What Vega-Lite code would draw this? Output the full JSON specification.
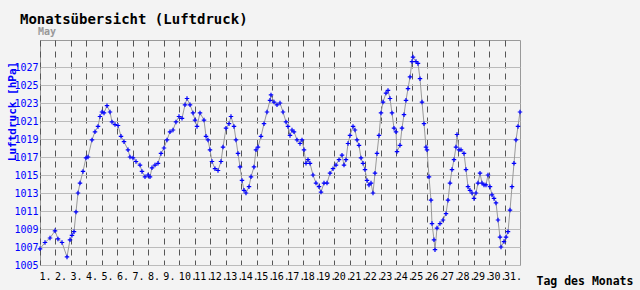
{
  "$schema": "https://vega.github.io/schema/vega-lite/v6.json",
  "width": 480,
  "height": 225,
  "autosize": {"type": "none"},
  "padding": {"left": 40, "top": 40, "right": 120, "bottom": 25},
  "background": "#f3f3f3",
  "title": {"text": "Monatsübersicht (Luftdruck)", "anchor": "start", "frame": "group", "dx": -20, "offset": 0, "font": "DejaVu Sans Mono", "fontSize": 14, "fontWeight": "bold", "color": "#000000"},
  "config": {"view": {"stroke": "#999999", "strokeWidth": 1}},
  "data": {"values": [
    {"d":1.000,"p":1006.8},{"d":1.323,"p":1007.5},{"d":1.646,"p":1008.0},{"d":1.969,"p":1008.8},{"d":2.162,"p":1007.9},{"d":2.421,"p":1007.5},{"d":2.744,"p":1005.9},{"d":2.937,"p":1007.8},
    {"d":3.066,"p":1008.3},{"d":3.196,"p":1008.7},{"d":3.325,"p":1010.9},{"d":3.454,"p":1013.0},{"d":3.583,"p":1014.1},{"d":3.777,"p":1015.4},{"d":3.971,"p":1016.9},
    {"d":4.100,"p":1017.0},{"d":4.358,"p":1018.9},{"d":4.552,"p":1019.8},{"d":4.746,"p":1020.4},{"d":4.875,"p":1021.5},{"d":5.004,"p":1022.0},
    {"d":5.133,"p":1021.9},{"d":5.327,"p":1022.7},{"d":5.521,"p":1022.0},{"d":5.650,"p":1020.9},{"d":5.844,"p":1020.6},{"d":6.037,"p":1020.5},
    {"d":6.231,"p":1019.3},{"d":6.425,"p":1018.7},{"d":6.683,"p":1017.8},{"d":6.812,"p":1017.0},{"d":7.006,"p":1016.9},
    {"d":7.200,"p":1016.5},{"d":7.458,"p":1016.1},{"d":7.587,"p":1015.4},{"d":7.781,"p":1014.8},{"d":7.975,"p":1015.0},
    {"d":8.104,"p":1014.8},{"d":8.233,"p":1015.8},{"d":8.427,"p":1016.1},{"d":8.621,"p":1016.3},{"d":8.814,"p":1017.4},{"d":9.008,"p":1018.0},
    {"d":9.202,"p":1018.9},{"d":9.396,"p":1019.8},{"d":9.590,"p":1020.0},{"d":9.783,"p":1020.9},{"d":9.977,"p":1021.5},
    {"d":10.171,"p":1021.3},{"d":10.365,"p":1022.8},{"d":10.494,"p":1023.5},{"d":10.688,"p":1022.8},{"d":10.881,"p":1021.9},{"d":11.010,"p":1021.1},
    {"d":11.140,"p":1020.4},{"d":11.333,"p":1021.9},{"d":11.592,"p":1021.1},{"d":11.721,"p":1019.3},{"d":11.850,"p":1018.9},{"d":11.979,"p":1017.8},
    {"d":12.108,"p":1016.5},{"d":12.302,"p":1015.7},{"d":12.496,"p":1015.5},{"d":12.690,"p":1016.5},{"d":12.819,"p":1018.1},{"d":13.013,"p":1020.2},
    {"d":13.206,"p":1020.7},{"d":13.335,"p":1021.5},{"d":13.529,"p":1020.4},{"d":13.658,"p":1018.9},{"d":13.787,"p":1017.4},{"d":13.917,"p":1015.9},
    {"d":14.046,"p":1014.4},{"d":14.175,"p":1013.3},{"d":14.304,"p":1013.0},{"d":14.498,"p":1013.7},{"d":14.627,"p":1014.8},{"d":14.821,"p":1015.9},{"d":14.950,"p":1017.8},
    {"d":15.079,"p":1018.1},{"d":15.273,"p":1019.3},{"d":15.467,"p":1020.7},{"d":15.660,"p":1022.0},{"d":15.854,"p":1023.3},{"d":15.919,"p":1023.9},
    {"d":16.113,"p":1023.1},{"d":16.306,"p":1022.8},{"d":16.500,"p":1023.0},{"d":16.694,"p":1022.0},{"d":16.888,"p":1020.9},{"d":17.017,"p":1020.4},
    {"d":17.146,"p":1019.4},{"d":17.275,"p":1020.0},{"d":17.404,"p":1019.8},{"d":17.598,"p":1018.9},{"d":17.792,"p":1018.5},{"d":17.921,"p":1018.9},
    {"d":18.050,"p":1017.8},{"d":18.179,"p":1016.3},{"d":18.308,"p":1016.7},{"d":18.437,"p":1016.3},{"d":18.631,"p":1015.0},{"d":18.825,"p":1014.1},{"d":19.019,"p":1013.7},
    {"d":19.148,"p":1013.1},{"d":19.342,"p":1014.1},{"d":19.535,"p":1014.1},{"d":19.729,"p":1015.2},{"d":19.923,"p":1015.7},
    {"d":20.117,"p":1016.1},{"d":20.310,"p":1016.7},{"d":20.504,"p":1017.2},{"d":20.633,"p":1016.1},{"d":20.762,"p":1016.7},{"d":20.892,"p":1018.5},{"d":21.021,"p":1019.4},
    {"d":21.215,"p":1020.4},{"d":21.344,"p":1020.0},{"d":21.473,"p":1018.9},{"d":21.602,"p":1018.3},{"d":21.731,"p":1016.9},{"d":21.860,"p":1016.3},{"d":21.989,"p":1015.6},
    {"d":22.118,"p":1014.4},{"d":22.248,"p":1013.9},{"d":22.377,"p":1014.1},{"d":22.506,"p":1013.0},{"d":22.635,"p":1015.2},{"d":22.764,"p":1017.4},{"d":22.894,"p":1019.4},{"d":23.023,"p":1021.9},
    {"d":23.152,"p":1023.1},{"d":23.346,"p":1024.1},{"d":23.475,"p":1024.4},{"d":23.604,"p":1023.5},{"d":23.733,"p":1021.9},{"d":23.862,"p":1020.2},{"d":23.992,"p":1019.8},
    {"d":24.056,"p":1017.6},{"d":24.250,"p":1018.3},{"d":24.379,"p":1020.2},{"d":24.508,"p":1021.7},{"d":24.638,"p":1023.3},{"d":24.767,"p":1024.6},{"d":24.896,"p":1025.9},{"d":25.025,"p":1027.6},
    {"d":25.090,"p":1028.1},{"d":25.283,"p":1027.6},{"d":25.412,"p":1027.4},{"d":25.542,"p":1025.7},{"d":25.671,"p":1023.1},{"d":25.800,"p":1020.7},{"d":25.929,"p":1018.1},{"d":25.994,"p":1017.8},
    {"d":26.123,"p":1014.8},{"d":26.252,"p":1012.2},{"d":26.317,"p":1009.6},{"d":26.446,"p":1007.8},{"d":26.510,"p":1006.7},{"d":26.639,"p":1009.1},{"d":26.833,"p":1009.6},{"d":27.027,"p":1010.0},
    {"d":27.221,"p":1010.7},{"d":27.350,"p":1012.2},{"d":27.479,"p":1014.1},{"d":27.608,"p":1015.6},{"d":27.737,"p":1016.7},{"d":27.866,"p":1018.1},{"d":27.931,"p":1019.5},
    {"d":28.060,"p":1017.8},{"d":28.189,"p":1017.8},{"d":28.383,"p":1017.4},{"d":28.512,"p":1015.6},{"d":28.641,"p":1013.7},{"d":28.771,"p":1013.3},{"d":28.900,"p":1013.0},{"d":29.029,"p":1012.4},
    {"d":29.158,"p":1013.0},{"d":29.287,"p":1014.1},{"d":29.417,"p":1015.2},{"d":29.546,"p":1014.1},{"d":29.675,"p":1013.9},{"d":29.804,"p":1013.9},{"d":29.933,"p":1015.0},
    {"d":30.062,"p":1013.7},{"d":30.191,"p":1012.8},{"d":30.321,"p":1012.4},{"d":30.450,"p":1011.9},{"d":30.579,"p":1010.0},{"d":30.708,"p":1008.1},{"d":30.773,"p":1007.0},{"d":30.966,"p":1007.6},
    {"d":31.096,"p":1008.1},{"d":31.225,"p":1008.7},{"d":31.354,"p":1011.1},{"d":31.483,"p":1013.7},{"d":31.612,"p":1016.3},{"d":31.741,"p":1018.9},{"d":31.871,"p":1020.4},{"d":32.000,"p":1022.0}
  ]},
  "layer": [
    {
      "mark": {"type": "line", "color": "#999999", "strokeWidth": 1},
      "encoding": {
        "x": {"field": "d", "type": "quantitative", "scale": {"domain": [1, 32], "nice": false, "zero": false},
          "axis": {"values": [1,2,3,4,5,6,7,8,9,10,11,12,13,14,15,16,17,18,19,20,21,22,23,24,25,26,27,28,29,30,31],
            "tickCount": 40,
            "labelExpr": "datum.value + '.'", "labelAlign": "left", "labelOverlap": false, "labelBound": false, "labelFlush": false,
            "labelOffset": -1, "labelPadding": 6, "tickSize": 0, "domain": false,
            "labelFont": "DejaVu Sans Mono", "labelFontSize": 10, "labelColor": "#000000",
            "grid": true, "gridDash": [6, 5], "gridColor": "#555555", "gridOpacity": 1, "gridWidth": 1,
            "title": "Tag des Monats", "titleX": 496, "titleY": 19, "titleAlign": "left", "titleBaseline": "alphabetic",
            "titleFont": "DejaVu Sans Mono", "titleFontSize": 11.5, "titleFontWeight": "bold", "titleColor": "#000000"}},
        "y": {"field": "p", "type": "quantitative", "scale": {"domain": [1005, 1030], "nice": false, "zero": false},
          "axis": {"values": [1005,1007,1009,1011,1013,1015,1017,1019,1021,1023,1025,1027],
            "tickCount": 20, "format": "d", "labelOverlap": false,
            "tickSize": 0, "labelPadding": 2, "domain": false,
            "labelFont": "DejaVu Sans Mono", "labelFontSize": 10, "labelColor": "#0000ff",
            "grid": true, "gridColor": "#bbbbbb", "gridOpacity": 1, "gridWidth": 1,
            "title": "Luftdruck [hPa]", "titleX": -28, "titleY": 71, "titleAngle": -90, "titleAlign": "center", "titleBaseline": "middle",
            "titleFont": "DejaVu Sans Mono", "titleFontSize": 11, "titleFontWeight": "bold", "titleColor": "#0000ff"}}
      }
    },
    {
      "mark": {"type": "point", "shape": "M-1,0L1,0M0,-1L0,1", "filled": false, "stroke": "#0000ff", "strokeWidth": 1.2, "size": 20, "opacity": 1},
      "encoding": {
        "x": {"field": "d", "type": "quantitative"},
        "y": {"field": "p", "type": "quantitative"}
      }
    },
    {
      "data": {"values": [{"t": "May"}]},
      "mark": {"type": "text", "align": "left", "baseline": "alphabetic", "dx": -2, "dy": -5, "font": "DejaVu Sans Mono", "fontSize": 10, "fontWeight": "bold", "color": "#999999"},
      "encoding": {
        "x": {"datum": 1, "type": "quantitative"},
        "y": {"datum": 1030, "type": "quantitative"},
        "text": {"field": "t"}
      }
    }
  ]
}
